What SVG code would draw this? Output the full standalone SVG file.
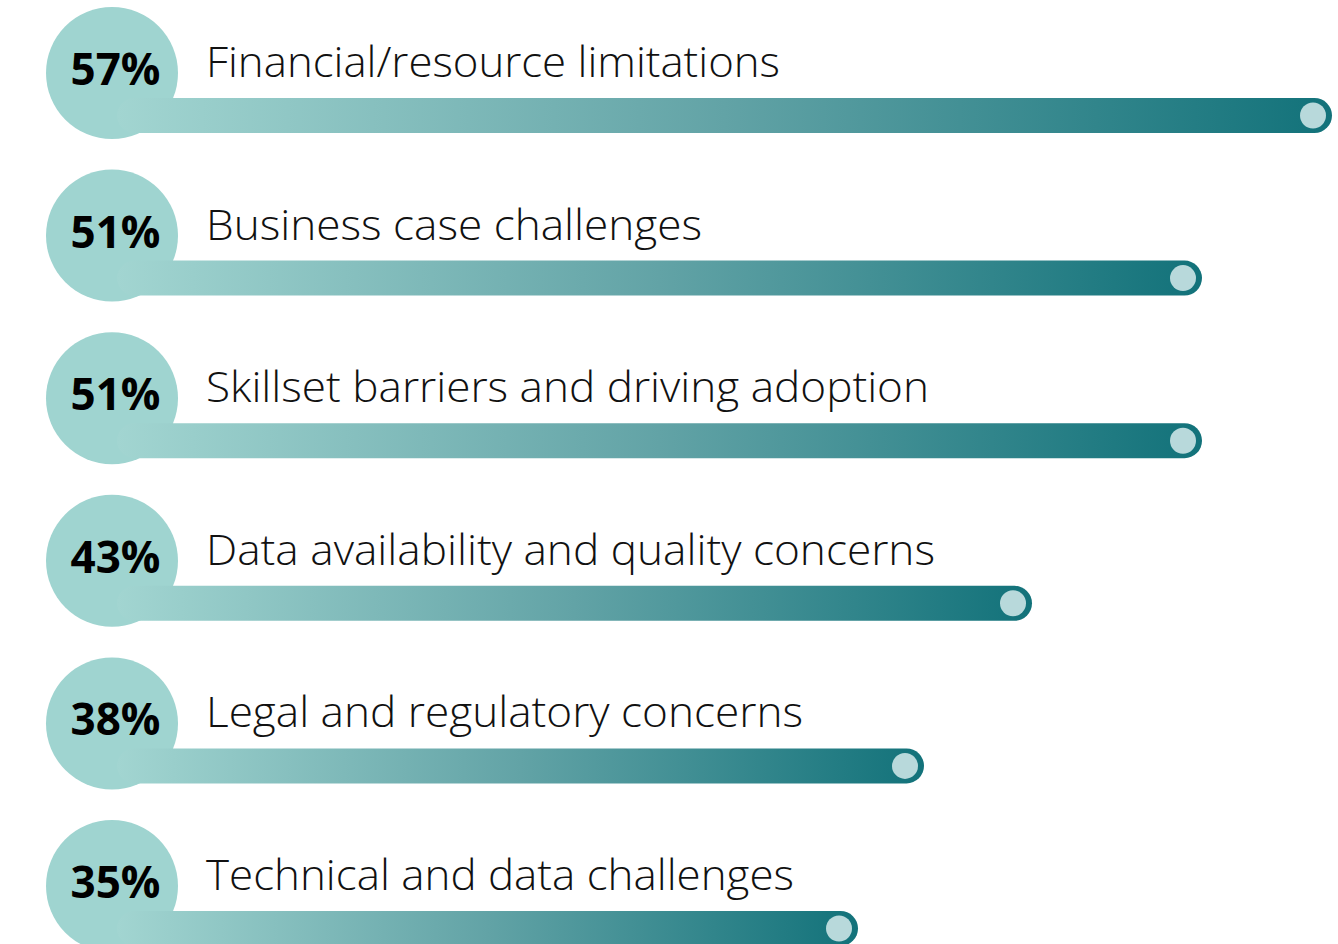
<svg xmlns="http://www.w3.org/2000/svg" width="1338" height="944" viewBox="0 0 1338 944">
  <defs>
    <linearGradient id="barGrad" x1="0" y1="0" x2="1" y2="0">
      <stop offset="0" stop-color="#a2d5d1"/>
      <stop offset="0.5" stop-color="#62a3a6"/>
      <stop offset="1" stop-color="#12727a"/>
    </linearGradient>
    <style>
      .bubble { fill: #9fd4d0; }
      .bar { fill: url(#barGrad); }
      .dot { fill: #b8d9db; }
      .pct { font-family: "Open Sans", "Liberation Sans", sans-serif; font-weight: 700; font-size: 44px; fill: #000; text-anchor: middle; }
      .lbl { font-family: "Open Sans", "Liberation Sans", sans-serif; font-weight: 300; font-size: 42px; fill: #111; }
    </style>
  </defs>
  <rect width="1338" height="944" fill="#ffffff"/>

  <g id="row1">
    <circle class="bubble" cx="112" cy="73" r="66"/>
    <rect class="bar" x="117" y="98" width="1215" height="35" rx="17.5"/>
    <circle class="dot" cx="1313" cy="115.5" r="13"/>
    <text class="pct" x="115.5" y="85">57%</text>
    <text class="lbl" x="206" y="77" textLength="574" lengthAdjust="spacingAndGlyphs">Financial/resource limitations</text>
  </g>
  <g id="row2">
    <circle class="bubble" cx="112" cy="235.6" r="66"/>
    <rect class="bar" x="117" y="260.6" width="1085" height="35" rx="17.5"/>
    <circle class="dot" cx="1183" cy="278.1" r="13"/>
    <text class="pct" x="115.5" y="247.6">51%</text>
    <text class="lbl" x="206" y="239.6" textLength="496" lengthAdjust="spacingAndGlyphs">Business case challenges</text>
  </g>
  <g id="row3">
    <circle class="bubble" cx="112" cy="398.2" r="66"/>
    <rect class="bar" x="117" y="423.2" width="1085" height="35" rx="17.5"/>
    <circle class="dot" cx="1183" cy="440.7" r="13"/>
    <text class="pct" x="115.5" y="410.2">51%</text>
    <text class="lbl" x="206" y="402.2" textLength="723" lengthAdjust="spacingAndGlyphs">Skillset barriers and driving adoption</text>
  </g>
  <g id="row4">
    <circle class="bubble" cx="112" cy="560.8" r="66"/>
    <rect class="bar" x="117" y="585.8" width="915" height="35" rx="17.5"/>
    <circle class="dot" cx="1013" cy="603.3" r="13"/>
    <text class="pct" x="115.5" y="572.8">43%</text>
    <text class="lbl" x="206" y="564.8" textLength="729" lengthAdjust="spacingAndGlyphs">Data availability and quality concerns</text>
  </g>
  <g id="row5">
    <circle class="bubble" cx="112" cy="723.4" r="66"/>
    <rect class="bar" x="117" y="748.4" width="807" height="35" rx="17.5"/>
    <circle class="dot" cx="905" cy="765.9" r="13"/>
    <text class="pct" x="115.5" y="735.4">38%</text>
    <text class="lbl" x="206" y="727.4" textLength="597" lengthAdjust="spacingAndGlyphs">Legal and regulatory concerns</text>
  </g>
  <g id="row6">
    <circle class="bubble" cx="112" cy="886" r="66"/>
    <rect class="bar" x="117" y="911" width="741" height="35" rx="17.5"/>
    <circle class="dot" cx="839" cy="928.5" r="13"/>
    <text class="pct" x="115.5" y="898">35%</text>
    <text class="lbl" x="206" y="890" textLength="588" lengthAdjust="spacingAndGlyphs">Technical and data challenges</text>
  </g>
  <g id="connectors"></g>
</svg>
